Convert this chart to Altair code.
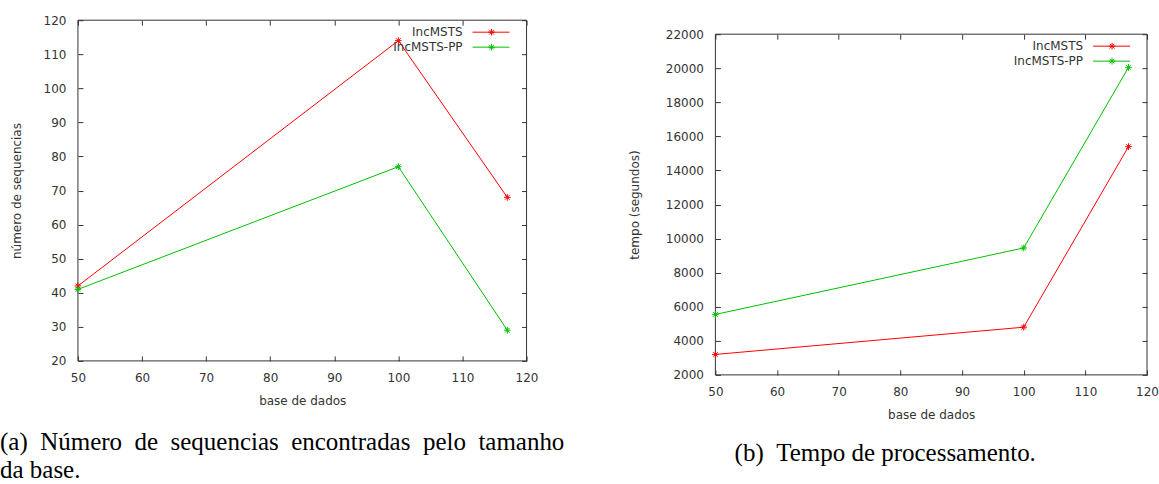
import altair as alt
import pandas as pd

# ---------------- data ----------------
x_vals = [50, 100, 117]
series_names = ["IncMSTS", "IncMSTS-PP"]
series_colors = ["#ff0000", "#00c000"]

a_incmsts = [42, 114, 68]
a_incmsts_pp = [41, 77, 29]
b_incmsts = [3200, 4800, 15400]
b_incmsts_pp = [5550, 9450, 20050]

x_ticks = [50, 60, 70, 80, 90, 100, 110, 120]
a_y_ticks = [20, 30, 40, 50, 60, 70, 80, 90, 100, 110, 120]
b_y_ticks = [2000, 4000, 6000, 8000, 10000, 12000, 14000, 16000, 18000, 20000, 22000]

x_title = "base de dados"
a_y_title = "número de sequencias"
b_y_title = "tempo (segundos)"
a_caption = ["(a)\u2002Número\u2002de\u2002sequencias\u2002encontradas\u2002pelo\u2002tamanho", "da base."]
b_caption = ["(b)\u2002Tempo de processamento."]

# ---------------- style ----------------
STAR = "M-1,0L1,0M0,-1L0,1M-0.7,-0.7L0.7,0.7M-0.7,0.7L0.7,-0.7"
FONT = "DejaVu Sans"
SERIF = "Liberation Serif"
TXT = "#333333"


def panel(inc, pp, y_ticks, y_title, W, H, top_gap, caption, cap_x, cap_y, cap_align, ytitle_pad):
    df = pd.DataFrame({
        "x": x_vals + x_vals,
        "y": inc + pp,
        "s": [series_names[0]] * len(x_vals) + [series_names[1]] * len(x_vals),
    })
    x0, x1 = x_ticks[0], x_ticks[-1]
    y0, y1 = y_ticks[0], y_ticks[-1]
    xs = alt.Scale(domain=[x0, x1], nice=False, zero=False)
    ys = alt.Scale(domain=[y0, y1], nice=False, zero=False, range=[H + top_gap, top_gap])
    col = alt.Color("s:N", scale=alt.Scale(domain=series_names, range=series_colors), legend=None)
    inner = dict(tickSize=5, domain=False, grid=False, tickColor=TXT,
                 labelFlush=False, labelOverlap=False)

    # plot frame (gnuplot border), placed through the scales
    fdf = pd.DataFrame({
        "fx": [x0, x0, x0, x1], "fx2": [x1, x1, x0, x1],
        "fy": [y0, y1, y0, y0], "fy2": [y0, y1, y1, y1],
    })
    frame = alt.Chart(fdf).mark_rule(color=TXT, strokeWidth=1).encode(
        x=alt.X("fx:Q", scale=xs, axis=None), x2="fx2:Q",
        y=alt.Y("fy:Q", scale=ys, axis=None), y2="fy2:Q",
    )

    lines = alt.Chart(df).mark_line(strokeWidth=1).encode(
        x=alt.X("x:Q", scale=xs, axis=alt.Axis(orient="bottom", offset=-5, values=x_ticks, format="d",
                                                title=x_title, labelPadding=12, titlePadding=12, **inner)),
        y=alt.Y("y:Q", scale=ys, axis=alt.Axis(orient="left", offset=-5, values=y_ticks, format="d",
                                                title=y_title, labelPadding=12, titlePadding=ytitle_pad,
                                                **inner)),
        color=col,
        detail="s:N",
    )
    points = alt.Chart(df).mark_point(shape=STAR, filled=False, size=45, strokeWidth=1, opacity=1).encode(
        x=alt.X("x:Q", scale=xs, axis=alt.Axis(orient="top", offset=-(5 + top_gap), values=x_ticks,
                                                labels=False, title=None, **inner)),
        y=alt.Y("y:Q", scale=ys, axis=alt.Axis(orient="right", offset=-5, values=y_ticks,
                                                labels=False, title=None, **inner)),
        color=col,
    )
    layers = [frame, lines, points]

    # legend (gnuplot style: label, then line sample with marker)
    row_y = [top_gap + 12, top_gap + 27]
    for i, name in enumerate(series_names):
        ldf = pd.DataFrame({"s": [name]})
        layers.append(alt.Chart(ldf).mark_text(align="right", baseline="middle", font=FONT,
                                               fontSize=12, color=TXT).encode(
            text="s:N", x=alt.value(W - 64), y=alt.value(row_y[i])))
        layers.append(alt.Chart(ldf).mark_rule(color=series_colors[i], strokeWidth=1).encode(
            x=alt.value(W - 54), x2=alt.value(W - 17), y=alt.value(row_y[i])))
        layers.append(alt.Chart(ldf).mark_point(shape=STAR, filled=False, size=45, strokeWidth=1,
                                                opacity=1, color=series_colors[i]).encode(
            x=alt.value(W - 35), y=alt.value(row_y[i])))

    # caption
    cdf = pd.DataFrame({"c": [0]})
    layers.append(alt.Chart(cdf).mark_text(text=caption, align=cap_align, baseline="alphabetic",
                                           font=SERIF, fontSize=25, lineHeight=28, color="#000000").encode(
        x=alt.value(cap_x), y=alt.value(cap_y)))

    return alt.layer(*layers).resolve_axis(x="independent", y="independent").properties(
        width=W, height=H + top_gap)


left = panel(a_incmsts, a_incmsts_pp, a_y_ticks, a_y_title, 449, 341, 0,
             a_caption, -78, 430, "left", 20)
right = panel(b_incmsts, b_incmsts_pp, b_y_ticks, b_y_title, 432, 341, 14,
              b_caption, 170, 441, "center", 24)

chart = alt.hconcat(left, right, spacing=62).properties(
    padding={"left": 0, "top": 14, "right": 0, "bottom": 0}
).configure_view(strokeWidth=0).configure_axis(
    labelFont=FONT, titleFont=FONT, labelFontSize=12, titleFontSize=12,
    labelColor=TXT, titleColor=TXT, titleFontWeight="normal"
)

chart.save("out.html", embed_options={"renderer": "svg", "actions": False})
